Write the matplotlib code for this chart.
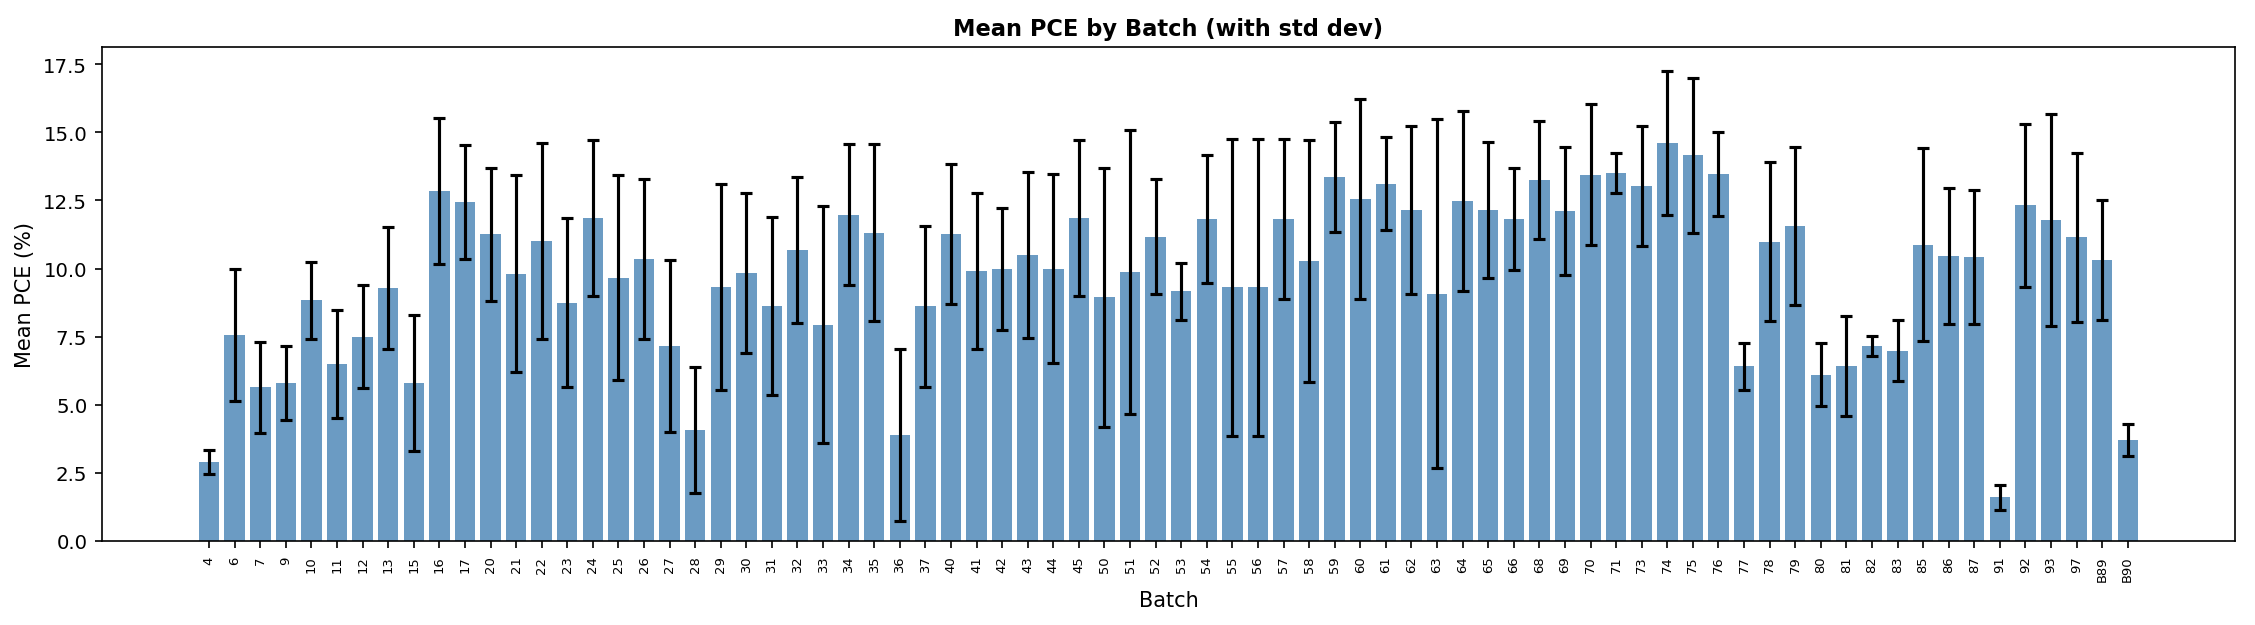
import numpy as np
import matplotlib
matplotlib.use("Agg")
import matplotlib.pyplot as plt

# ===== Data =====
batches = ["4", "6", "7", "9", "10", "11", "12", "13", "15", "16", "17", "20", "21",
           "22", "23", "24", "25", "26", "27", "28", "29", "30", "31", "32", "33",
           "34", "35", "36", "37", "40", "41", "42", "43", "44", "45", "50", "51",
           "52", "53", "54", "55", "56", "57", "58", "59", "60", "61", "62", "63",
           "64", "65", "66", "68", "69", "70", "71", "73", "74", "75", "76", "77",
           "78", "79", "80", "81", "82", "83", "85", "86", "87", "91", "92", "93",
           "97", "B89", "B90"]

mean_pce = [2.90, 7.55, 5.64, 5.80, 8.83, 6.51, 7.50, 9.27, 5.81, 12.85, 12.44, 11.26, 9.81,
            11.02, 8.75, 11.86, 9.67, 10.35, 7.16, 4.07, 9.32, 9.84, 8.62, 10.70, 7.94,
            11.98, 11.31, 3.89, 8.62, 11.27, 9.92, 10.00, 10.49, 10.00, 11.86, 8.95, 9.86,
            11.17, 9.17, 11.82, 9.31, 9.31, 11.82, 10.28, 13.36, 12.55, 13.11, 12.15, 9.08,
            12.48, 12.14, 11.82, 13.26, 12.12, 13.45, 13.50, 13.03, 14.62, 14.16, 13.47, 6.41,
            10.99, 11.56, 6.10, 6.42, 7.16, 6.98, 10.87, 10.46, 10.42, 1.60, 12.32, 11.80,
            11.15, 10.31, 3.71]

std_pce = [0.45, 2.42, 1.66, 1.37, 1.40, 1.98, 1.88, 2.24, 2.50, 2.68, 2.08, 2.45, 3.61,
           3.60, 3.11, 2.87, 3.75, 2.95, 3.16, 2.30, 3.77, 2.93, 3.27, 2.68, 4.36,
           2.58, 3.25, 3.17, 2.95, 2.57, 2.87, 2.24, 3.05, 3.47, 2.86, 4.76, 5.21,
           2.12, 1.04, 2.35, 5.46, 5.46, 2.92, 4.43, 2.02, 3.66, 1.71, 3.08, 6.40,
           3.30, 2.50, 1.87, 2.16, 2.35, 2.60, 0.74, 2.20, 2.64, 2.84, 1.55, 0.87,
           2.92, 2.90, 1.16, 1.83, 0.37, 1.12, 3.54, 2.50, 2.45, 0.46, 3.00, 3.89,
           3.10, 2.20, 0.60]

# ===== Plot =====
fig, ax = plt.subplots(figsize=(2255 / 150, 626 / 150), dpi=150)
ax.bar(batches, mean_pce, yerr=std_pce, capsize=3, color="steelblue", alpha=0.8,
       error_kw=dict(ecolor="black", elinewidth=1.5, capthick=1.5))
ax.set_title("Mean PCE by Batch (with std dev)", fontweight="bold", fontsize=10.8)
ax.set_xlabel("Batch", fontsize=10)
ax.set_ylabel("Mean PCE (%)", fontsize=10)
ax.tick_params(axis="y", labelsize=9.5)
ax.tick_params(axis="x", labelsize=6.3, labelrotation=90)
fig.subplots_adjust(left=0.0452, right=0.9911, top=0.9228, bottom=0.1342)
plt.savefig("out.png", dpi=150)
